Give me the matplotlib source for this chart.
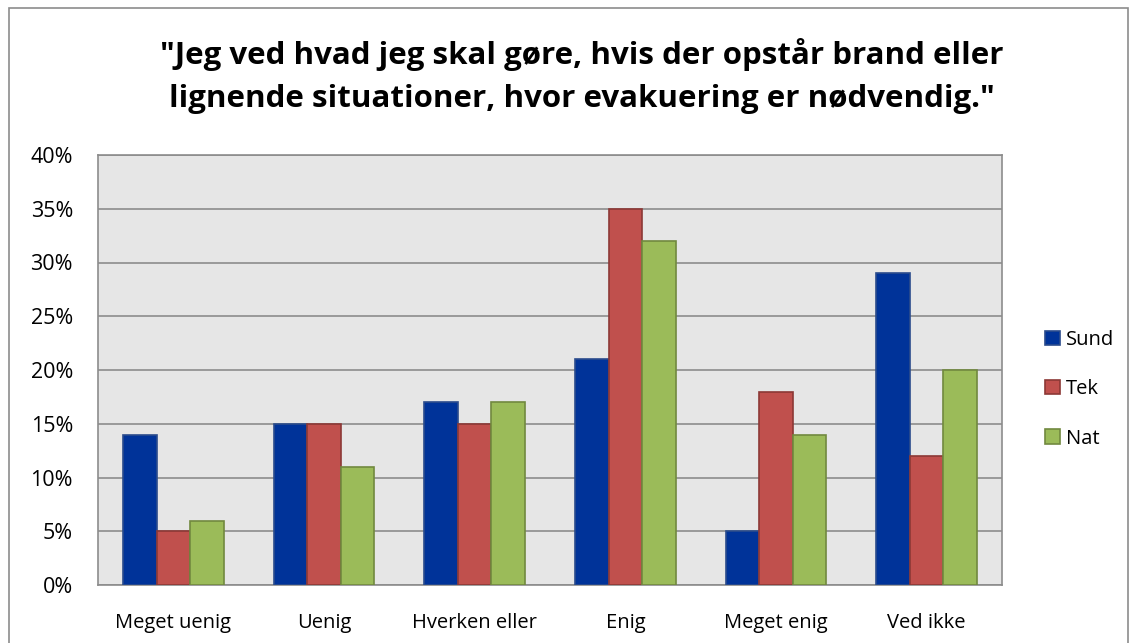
import numpy as np
import matplotlib.pyplot as plt
import matplotlib as mpl
from matplotlib.patches import Rectangle

mpl.rcParams['font.family'] = ['Open Sans', 'DejaVu Sans']

categories = ['Meget uenig', 'Uenig', 'Hverken eller', 'Enig', 'Meget enig', 'Ved ikke']
sund = [14, 15, 17, 21, 5, 29]
tek = [5, 15, 15, 35, 18, 12]
nat = [6, 11, 17, 32, 14, 20]
series = ['Sund', 'Tek', 'Nat']

fills = ['#003399', '#C0504D', '#9BBB59']
edges = ['#2B4C8C', '#8C3836', '#71893F']

W, H = 1136, 643
fig = plt.figure(figsize=(W / 100, H / 100), dpi=100)
fig.patches.append(Rectangle((9 / W, -0.01), (1128 - 9) / W, 1 - 8 / H + 0.01,
                             transform=fig.transFigure, fill=False,
                             edgecolor='#8C8C8C', linewidth=1.2))

ax = fig.add_axes([98 / W, 58 / H, (1002 - 98) / W, (585 - 155) / H])
ax.set_facecolor('#E6E6E6')

x = np.arange(len(categories))
bw = 1 / 4.5
for i, (vals, name) in enumerate(zip([sund, tek, nat], series)):
    ax.bar(x + (i - 1) * bw, vals, width=bw, color=fills[i], edgecolor=edges[i],
           linewidth=1.2, label=name, zorder=3)

ax.set_xlim(-0.5, len(categories) - 0.5)
ax.set_ylim(0, 40)
ax.set_yticks(range(0, 41, 5))
ax.set_yticklabels(['%d%%' % v for v in range(0, 41, 5)])
ax.set_xticks(x)
ax.set_xticklabels(categories)
ax.yaxis.grid(True, color='#8C8C8C', linewidth=1.2, zorder=0)
ax.set_axisbelow(True)
ax.tick_params(length=0, colors='black')
ax.tick_params(axis='y', pad=18, labelsize=15.5)
ax.tick_params(axis='x', pad=20, labelsize=14.5)
for s in ax.spines.values():
    s.set_color('#8C8C8C')
    s.set_linewidth(1.2)

fig.text(582 / W, 1 - 76 / H,
         '"Jeg ved hvad jeg skal gøre, hvis der opstår brand eller\nlignende situationer, hvor evakuering er nødvendig."',
         ha='center', va='center', fontsize=22.5, fontweight='bold', linespacing=1.55)

leg = ax.legend(loc='center left', bbox_to_anchor=(1.028, 0.455), frameon=False,
                fontsize=14.5, handlelength=0.7, handleheight=0.7, handletextpad=0.3,
                labelspacing=1.45)

fig.savefig('out.png', dpi=100)
